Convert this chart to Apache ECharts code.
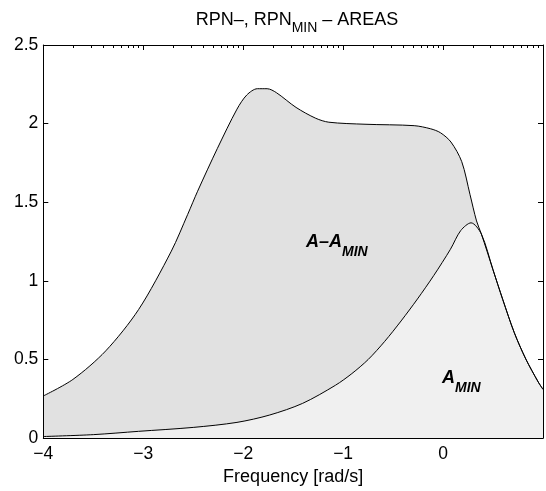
<!DOCTYPE html>
<html>
<head>
<meta charset="utf-8">
<script src="https://cdn.jsdelivr.net/npm/echarts@6/dist/echarts.min.js"></script>
<style>
  html, body { margin: 0; padding: 0; background: #fff; }
  #chart { width: 546px; height: 491px; }
</style>
</head>
<body>
<div id="chart"></div>
<script>
// log10 frequency and area values
var freqUpper = [-4.000, -3.704, -3.375, -3.047, -2.719, -2.555, -2.456, -2.259, -2.062, -1.964,
                 -1.858, -1.760, -1.668, -1.471, -1.274, -1.143, -0.781, -0.289, -0.124, -0.026,
                 0.079, 0.187, 0.270, 0.335, 0.384, 0.500, 0.598, 0.713, 0.828, 0.953, 1.000];
var areaA     = [0.268, 0.373, 0.555, 0.817, 1.189, 1.423, 1.570, 1.841, 2.092, 2.182,
                 2.222, 2.222, 2.197, 2.103, 2.034, 2.009, 1.996, 1.987, 1.967, 1.942,
                 1.883, 1.758, 1.548, 1.381, 1.297, 1.070, 0.880, 0.670, 0.503, 0.356, 0.310];
var freqLower = [-4.000, -3.500, -3.047, -2.500, -2.062, -1.734, -1.405, -1.077, -0.913, -0.749,
                 -0.584, -0.420, -0.256, -0.092, 0.073, 0.177, 0.280, 0.384];
var areaMin   = [0.010, 0.022, 0.043, 0.068, 0.100, 0.147, 0.221, 0.336, 0.410, 0.500,
                 0.615, 0.745, 0.885, 1.035, 1.200, 1.320, 1.369, 1.297];

var xTicks = [-4, -3, -2, -1, 0, 1];
var yTicks = [0, 0.5, 1, 1.5, 2, 2.5];

// minor ticks of the log frequency axis (top side)
var topMinorTicks = [];
for (var d = -4; d < 1; d++) {
	for (var k = 2; k <= 9; k++) {
		topMinorTicks.push(d + Math.log10(k));
	}
}

var FONT = "'Liberation Sans', Arial, Helvetica, sans-serif";

function pairs(xs, ys) {
	var out = [];
	for (var i = 0; i < xs.length; i++) out.push([xs[i], ys[i]]);
	return out;
}

var upperData = pairs(freqUpper, areaA);
// A_MIN follows A once the two curves meet
var meetX = freqLower[freqLower.length - 1];
var lowerData = pairs(freqLower, areaMin);
for (var i = 0; i < freqUpper.length; i++) {
	if (freqUpper[i] > meetX) lowerData.push([freqUpper[i], areaA[i]]);
}

function minus(v) {
	return String(v).replace('-', '\u2212');
}

// text with a lowered subscript, built from plain text pieces
var measureCtx = document.createElement('canvas').getContext('2d');
function textWidth(str, size, bold) {
	measureCtx.font = (bold ? 'italic bold ' : '') + size + 'px ' + FONT;
	return measureCtx.measureText(str).width;
}
function subscriptText(pieces, x, y, center, bold, drop) {
	// pieces: [text, isSub]
	var total = 0, widths = [];
	pieces.forEach(function (p) {
		var w = textWidth(p[0], p[1] ? 14 : 18, bold);
		widths.push(w);
		total += w;
	});
	var left = center ? x - total / 2 : x;
	var els = [];
	pieces.forEach(function (p, i) {
		els.push({
			type: 'text', x: left, y: p[1] ? y + drop : y, z: 100,
			style: {
				text: p[0], fill: '#000', font: (bold ? 'italic bold ' : '') + (p[1] ? 14 : 18) + 'px ' + FONT,
				align: 'left', verticalAlign: 'middle'
			}
		});
		left += widths[i];
	});
	return els;
}

var graphics = []
	.concat(subscriptText([['RPN\u2013, RPN', false], ['MIN', true], [' \u2013 AREAS', false]], 297, 20.5, true, false, 7.5))
	.concat(subscriptText([['A\u2013A', false], ['MIN', true]], 306, 242.5, false, true, 9.5))
	.concat(subscriptText([['A', false], ['MIN', true]], 442, 378.5, false, true, 9.5));

var chart = echarts.init(document.getElementById('chart'));
var black = '#000';

chart.setOption({
	animation: false,
	backgroundColor: '#fff',
	grid: { left: 43.3, top: 45, width: 506, height: 398.5 },
	xAxis: [{
		type: 'value', position: 'bottom', min: xTicks[0], max: xTicks[xTicks.length - 1], interval: 1, z: 5,
		axisLine: { onZero: false, lineStyle: { color: black, width: 1 } },
		axisTick: { show: false },
		splitLine: { show: false },
		axisLabel: {
			color: black, fontFamily: FONT, fontSize: 17.5, margin: 7,
			formatter: function (v) { return v === 1 ? '' : minus(v); }
		},
		name: 'Frequency [rad/s]', nameLocation: 'middle', nameGap: 29,
		nameTextStyle: { color: black, fontFamily: FONT, fontSize: 18 }
	}, {
		type: 'value', position: 'top', min: -4, max: 1, interval: 1, z: 5,
		axisLine: { onZero: false, lineStyle: { color: black, width: 1 } },
		axisTick: { inside: true, length: 5, lineStyle: { color: black } },
		axisLabel: { show: false }, splitLine: { show: false }
	}, {
		type: 'value', position: 'top', min: -4, max: 1, z: 5,
		axisLine: { show: false, onZero: false },
		axisTick: { inside: true, length: 3, customValues: topMinorTicks, lineStyle: { color: black } },
		axisLabel: { show: false }, splitLine: { show: false }
	}],
	yAxis: [{
		type: 'value', position: 'left', min: yTicks[0], max: yTicks[yTicks.length - 1], interval: 0.5, z: 5,
		axisLine: { show: true, onZero: false, lineStyle: { color: black, width: 1 } },
		axisTick: { show: true, inside: true, length: 5, lineStyle: { color: black } },
		splitLine: { show: false },
		axisLabel: { color: black, fontFamily: FONT, fontSize: 17.5, margin: 5 }
	}, {
		type: 'value', position: 'right', min: 0, max: 2.5, interval: 0.5, z: 5,
		axisLine: { show: true, onZero: false, lineStyle: { color: black, width: 1 } },
		axisTick: { show: true, inside: true, length: 5, lineStyle: { color: black } },
		splitLine: { show: false },
		axisLabel: { show: false }
	}],
	series: [{
		name: 'A', type: 'line', data: upperData, symbol: 'none', smooth: 0.3,
		lineStyle: { color: black, width: 1 },
		areaStyle: { color: '#e1e1e1', opacity: 1 }
	}, {
		name: 'A_MIN', type: 'line', data: lowerData, symbol: 'none', smooth: 0.3,
		lineStyle: { color: black, width: 1 },
		areaStyle: { color: '#f0f0f0', opacity: 1 }
	}],
	graphic: graphics
});
</script>
</body>
</html>
